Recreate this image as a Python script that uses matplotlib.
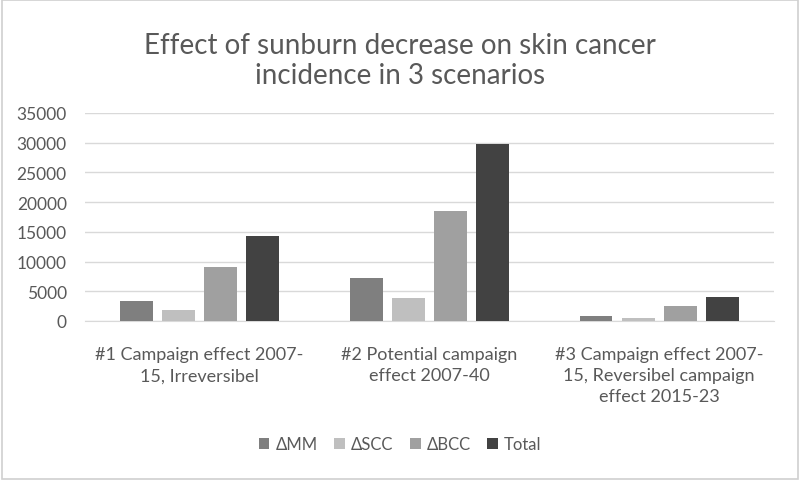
import matplotlib
matplotlib.use("Agg")
import matplotlib.pyplot as plt
import numpy as np
from matplotlib.patches import Rectangle

categories = ["#1 Campaign effect 2007-\n15, Irreversibel",
              "#2 Potential campaign\neffect 2007-40",
              "#3 Campaign effect 2007-\n15, Reversibel campaign\neffect 2015-23"]
series_names = ["ΔMM", "ΔSCC", "ΔBCC", "Total"]
mm = [3400, 7200, 900]
scc = [1900, 3900, 500]
bcc = [9000, 18500, 2500]
total = [14300, 29700, 4000]
yticks = [0, 5000, 10000, 15000, 20000, 25000, 30000, 35000]

colors = ["#7f7f7f", "#bfbfbf", "#a0a0a0", "#424242"]
txt = "#595959"
plt.rcParams['font.family'] = ['Lato', 'DejaVu Sans']

fig = plt.figure(figsize=(8, 4.81), dpi=100)
fig.patches.append(Rectangle((0.002, 0.002), 0.996, 0.996, transform=fig.transFigure,
                             fill=False, edgecolor="#d0d0d0", linewidth=1.2))
ax = fig.add_axes([0.106, 0.3306, 0.8615, 0.4324])

x = np.arange(len(categories))
slot = 0.183
bw = 0.143
data = [mm, scc, bcc, total]
for i, (vals, name, c) in enumerate(zip(data, series_names, colors)):
    ax.bar(x + (i - 1.5) * slot, vals, bw, color=c, label=name, zorder=3)

ax.set_xlim(-0.5, 2.5)
ax.set_ylim(0, 35000)
ax.set_yticks(yticks)
ax.set_yticklabels([str(v) for v in yticks], color=txt, fontsize=12.5)
ax.yaxis.grid(True, color="#d9d9d9", linewidth=1, zorder=0)
ax.tick_params(axis='y', length=0, pad=13)
ax.tick_params(axis='x', length=0, pad=18)
ax.set_xticks(x)
ax.set_xticklabels(categories, color=txt, fontsize=13, linespacing=1.4, va='top')
for s in ["top", "right", "left"]:
    ax.spines[s].set_visible(False)
ax.spines["bottom"].set_color("#d9d9d9")

fig.text(0.5, 0.873, "Effect of sunburn decrease on skin cancer\nincidence in 3 scenarios",
         ha='center', va='center', fontsize=20, color=txt, linespacing=1.2)

fig.legend(loc='center', bbox_to_anchor=(0.5, 0.075), ncol=4, frameon=False,
           fontsize=12, labelcolor=txt, handlelength=0.65, handleheight=0.65,
           handletextpad=0.35, columnspacing=1.0)

fig.savefig("out.png", dpi=100)
